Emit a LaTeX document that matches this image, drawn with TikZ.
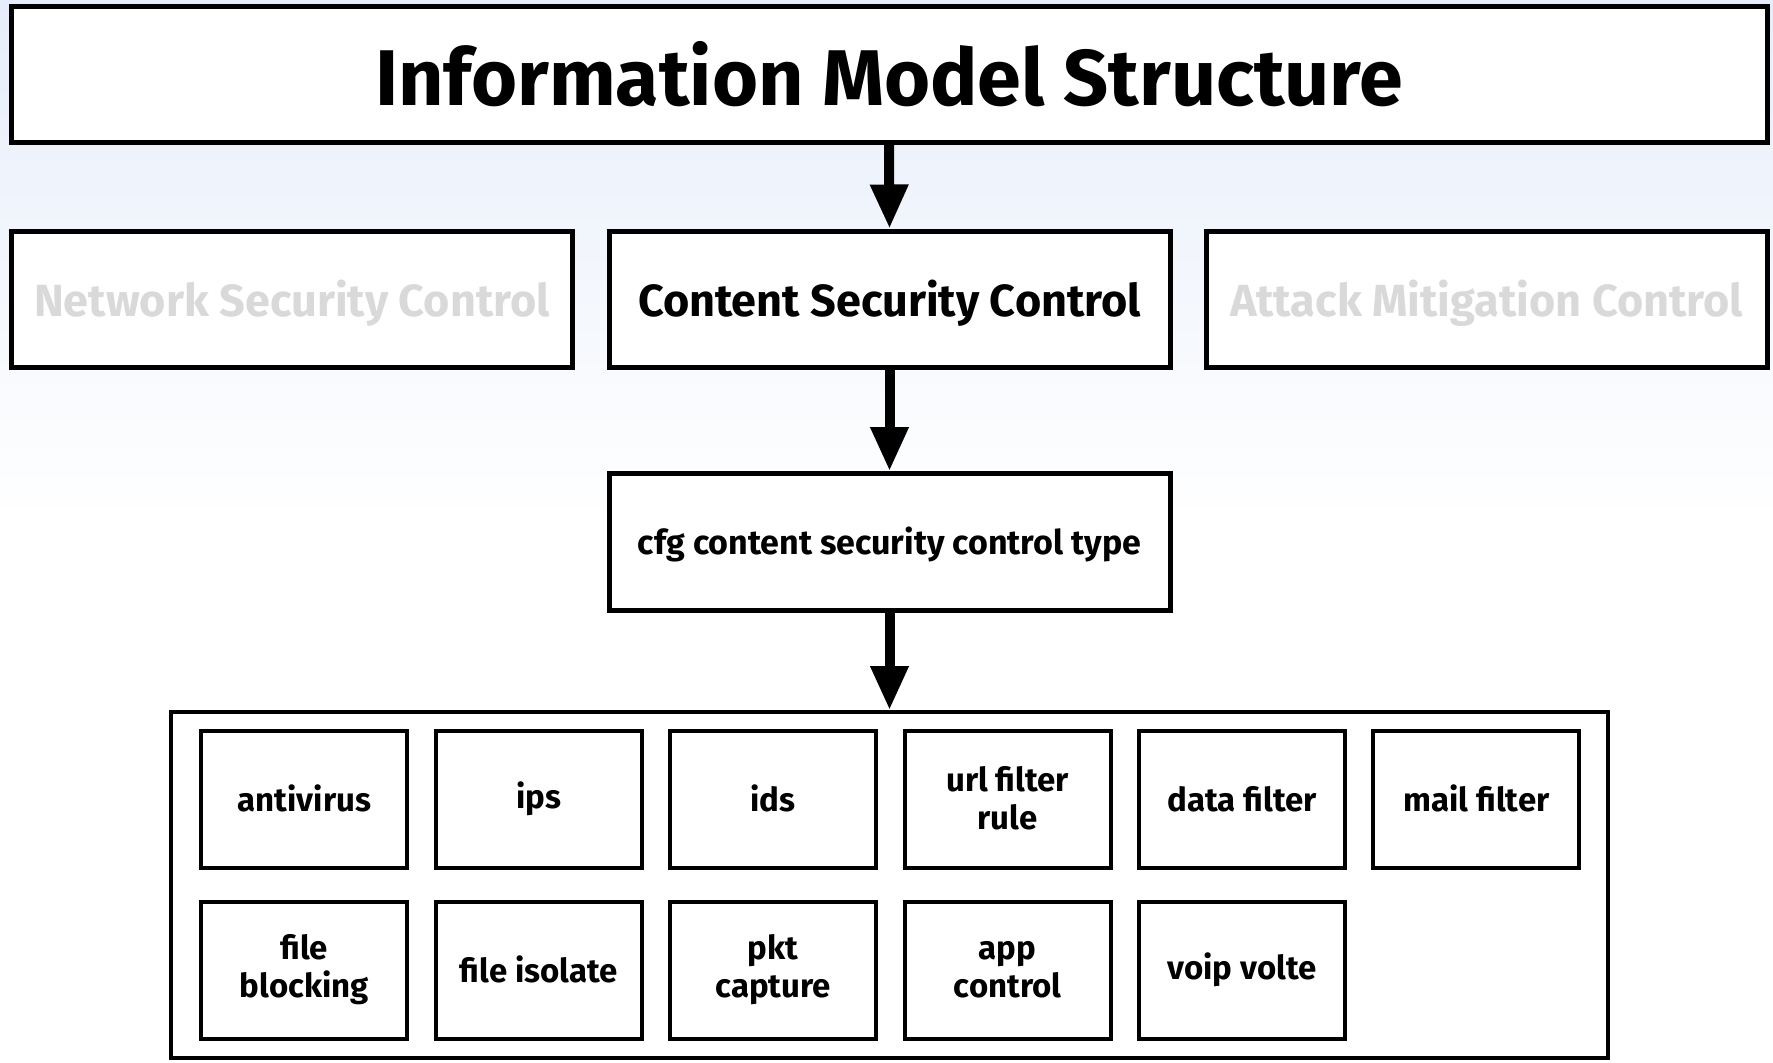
\documentclass[tikz,border=0pt]{standalone}
\usepackage{fontspec}
\setmainfont{Fira Sans}
\usetikzlibrary{arrows.meta}

\definecolor{bgblue}{RGB}{230,237,250}
\definecolor{fadegray}{RGB}{217,217,217}

\tikzset{
	box/.style={draw, line width=2.5pt, fill=white, align=center, font=\bfseries},
	ctrl/.style={box, minimum width=280.5pt, minimum height=68pt, text height=18pt, text depth=0.8pt,
		font=\bfseries\fontsize{22.5}{27}\selectfont},
	item/.style={box, line width=2pt, minimum width=103pt, minimum height=68.5pt,
		font=\bfseries\fontsize{16.5}{19}\selectfont,
		execute at begin node=\rule{0pt}{13.5pt}, execute at end node=\rule[-1pt]{0pt}{1pt}},
	link/.style={line width=5pt, -{Triangle[width=18pt,length=22pt]}}
}

\begin{document}
\begin{tikzpicture}[x=0.5pt,y=-0.5pt]
	\useasboundingbox (0,0) rectangle (1773,1062);
	\shade[top color=bgblue, bottom color=white] (0,0) rectangle (1773,520);

	\node[box, minimum width=878pt, minimum height=68pt, text height=31pt, text depth=0pt,
		font=\bfseries\fontsize{39.5}{48}\selectfont] (T) at (889,74) {Information Model Structure};

	\node[ctrl, text=fadegray] (N) at (292,299) {Network Security Control};
	\node[ctrl] (C) at (889.5,299) {Content Security Control};
	\node[ctrl, text=fadegray] (M) at (1486.5,299) {Attack Mitigation Control};

	\node[box, minimum width=280.5pt, minimum height=68.5pt, text height=14pt, text depth=1.2pt,
		font=\bfseries\fontsize{17}{19}\selectfont] (cfg) at (889.5,542) {cfg content security control type};

	\node[box, line width=2pt, minimum width=718.5pt, minimum height=173pt] (list) at (889.5,885) {};

	\draw[link] (T.south) -- (C.north);
	\draw[link] (C.south) -- (cfg.north);
	\draw[link] (cfg.south) -- (list.north);

	% content security types
	\foreach \t [count=\i] in {antivirus, ips, ids, {url filter\\rule}, data filter, mail filter}
		\node[item] (a\i) at (70+234.4*\i,799) {\t};
	\foreach \t [count=\i] in {{file\\blocking}, file isolate, {pkt\\capture}, {app\\control}, voip volte}
		\node[item] (b\i) at (70+234.4*\i,970) {\t};
\end{tikzpicture}
\end{document}
